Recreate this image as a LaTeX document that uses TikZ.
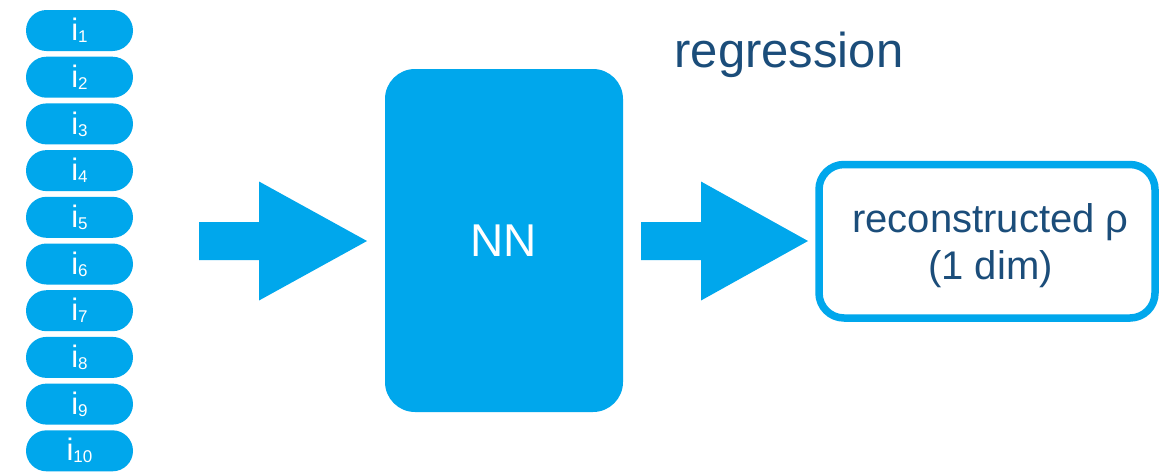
\documentclass[tikz,border=0pt]{standalone}
\usepackage{fontspec}
\setmainfont{Liberation Sans}
\usetikzlibrary{calc}
\definecolor{nnblue}{RGB}{0,167,236}
\definecolor{txtblue}{RGB}{27,77,122}
\newcommand\pillsub[1]{\raisebox{-2pt}{\fontsize{17}{17}\selectfont #1}}
\begin{document}
\begin{tikzpicture}[x=1pt,y=-1pt,
  pill/.style={fill=nnblue, draw=none, rounded corners=20.5pt, minimum width=107pt, minimum height=41pt, inner sep=0pt, outer sep=0pt, text=white, font=\fontsize{31}{31}\selectfont},
  nnbox/.style={fill=nnblue, draw=none, rounded corners=30pt, minimum width=238pt, minimum height=343pt, inner sep=0pt, outer sep=0pt, text=white, font=\fontsize{46}{46}\selectfont},
  outbox/.style={draw=nnblue, fill=white, line width=7.5pt, rounded corners=25pt, minimum width=336pt, minimum height=153.5pt, inner sep=0pt, outer sep=0pt},
  outtext/.style={text=txtblue, anchor=base, inner sep=0pt, font=\fontsize{40}{40}\selectfont},
  titletext/.style={text=txtblue, anchor=base, inner sep=0pt, font=\fontsize{49}{49}\selectfont},
  arrowfill/.style={fill=nnblue, draw=none}
]
\useasboundingbox (0,0) rectangle (1159,472);
\fill[white] (0,0) rectangle (1159,472);

% input pills
\foreach \k in {1,...,10}
  \node[pill] (i\k) at (79.5, {30.5+(\k-1)*46.7}) {i\pillsub{\k}};

% network box
\node[nnbox] (nn) at (504,240.5) {NN};

% output box
\node[outbox] (out) at (987,241.25) {};
\node[outtext] (out1) at (990.5,232) {reconstructed ρ};
\node[outtext] (out2) at (990.5,279) {(1 dim)};

% title
\node[titletext] (reg) at (789,67) {regression};

% big arrows
\coordinate (a1t) at ($(nn.west)+(-18,0.5)$);
\coordinate (a1s) at ($(a1t)+(-168,0)$);
\fill[arrowfill] ($(a1s)+(0,-19)$) -- ($(a1t)+(-108,-19)$) -- ($(a1t)+(-108,-59.5)$) -- (a1t)
  -- ($(a1t)+(-108,59.5)$) -- ($(a1t)+(-108,19)$) -- ($(a1s)+(0,19)$) -- cycle;

\coordinate (a2s) at ($(nn.east)+(18,0.5)$);
\coordinate (a2t) at ($(out.west)+(-11,-0.25)$);
\fill[arrowfill] ($(a2s)+(0,-19)$) -- ($(a2t)+(-107,-19)$) -- ($(a2t)+(-107,-59.5)$) -- (a2t)
  -- ($(a2t)+(-107,59.5)$) -- ($(a2t)+(-107,19)$) -- ($(a2s)+(0,19)$) -- cycle;
\end{tikzpicture}
\end{document}
